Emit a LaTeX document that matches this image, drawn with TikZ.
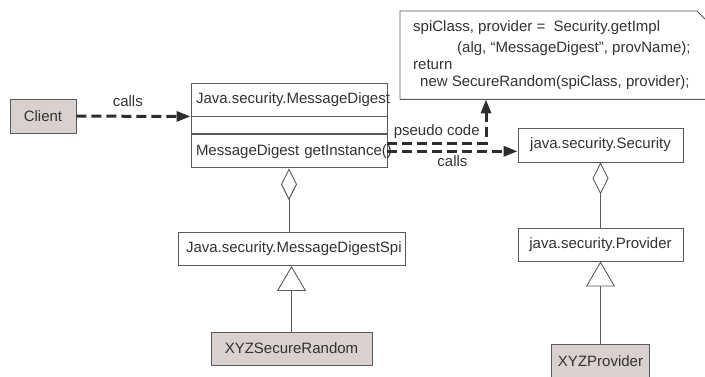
\documentclass[tikz,border=0pt]{standalone}
\usepackage{fontspec}
\setmainfont{Liberation Sans}
\usetikzlibrary{positioning, arrows.meta}

\definecolor{boxline}{RGB}{90,90,90}
\definecolor{arrowcol}{RGB}{45,45,45}
\definecolor{textgray}{RGB}{50,50,50}
\definecolor{implfill}{RGB}{217,209,205}

\newcommand{\umlfont}{\fontsize{15}{17}\selectfont}

\tikzset{
  classbox/.style={draw=boxline, line width=0.9pt, fill=white, font=\umlfont, text=textgray, minimum height=33pt},
  implbox/.style={classbox, fill=implfill},
  lbl/.style={font=\umlfont, text=textgray, inner sep=1pt},
  callarrow/.style={arrowcol, line width=3pt, dash pattern=on 10pt off 5pt, -{Triangle[length=14pt,width=10pt]}},
  aggr/.style={boxline, line width=0.9pt, -{Diamond[open, fill=white, length=32pt, width=16pt]}},
  generalize/.style={boxline, line width=0.9pt, -{Triangle[open, fill=white, length=25pt, width=29pt]}},
}

\begin{document}
\begin{tikzpicture}[x=1pt, y=-1pt]
  \useasboundingbox (0,0) rectangle (705,376);

  % client and the MessageDigest class
  \node[implbox, minimum width=66pt, minimum height=34pt] (client) at (43,116) {Client};
  \node[classbox, text width=186pt, inner xsep=5pt, align=left] (mdname) at (289,99.5) {Java.security.MessageDigest};
  \node[classbox, minimum width=196pt, minimum height=17pt, below=0pt of mdname] (mdattr) {};
  \node[classbox, text width=186pt, inner xsep=5pt, align=left, below=0pt of mdattr] (mdops) {\mbox{MessageDigest getInstance()}};

  % spi side
  \node[classbox, text width=211pt, inner xsep=8pt, align=left] (spi) at (291.5,249) {Java.security.MessageDigestSpi};
  \node[implbox, minimum width=161pt] (xyzrand) at (291.5,348.5) {XYZSecureRandom};

  % provider side
  \node[classbox, minimum width=165pt, minimum height=34pt] (security) at (600.5,145) {java.security.Security};
  \node[classbox, minimum width=165pt] (provider) at (600.5,244.5) {java.security.Provider};
  \node[implbox, minimum width=98pt, minimum height=34pt] (xyzprov) at (600.5,361) {XYZProvider};

  % note with the pseudo code
  \node[lbl, anchor=north west, inner xsep=13pt, minimum height=88pt, align=left] (note) at (400,11)
    {spiClass, provider =\ \ Security.getImpl\\[4pt]
     \hspace*{44pt}(alg, “MessageDigest”, provName);\\
     return\\
     \hspace*{7pt}new SecureRandom(spiClass, provider);};
  \draw[boxline, line width=0.9pt] (note.south west) -- (note.north west) -- ++(297,0)
    -- ++(16,16) |- (note.south west);

  % calls
  \draw[callarrow] (client) -- (mdname.south west) node[lbl, pos=0.45, above=7pt] {calls};
  \draw[callarrow] ([yshift=8pt]mdops.east) -| ([xshift=86pt]note.south west) node[lbl, pos=0.25, above=2pt] {pseudo code};
  \draw[callarrow] (mdops.east) -- (mdops.east -| security.west) node[lbl, midway, below=2pt] {calls};

  % aggregation and inheritance
  \draw[aggr] (mdops.south |- spi.north) -- (mdops.south);
  \draw[aggr] (provider) -- (security);
  \draw[generalize] (xyzrand) -- (spi);
  \draw[generalize] (xyzprov) -- (provider);
\end{tikzpicture}
\end{document}
